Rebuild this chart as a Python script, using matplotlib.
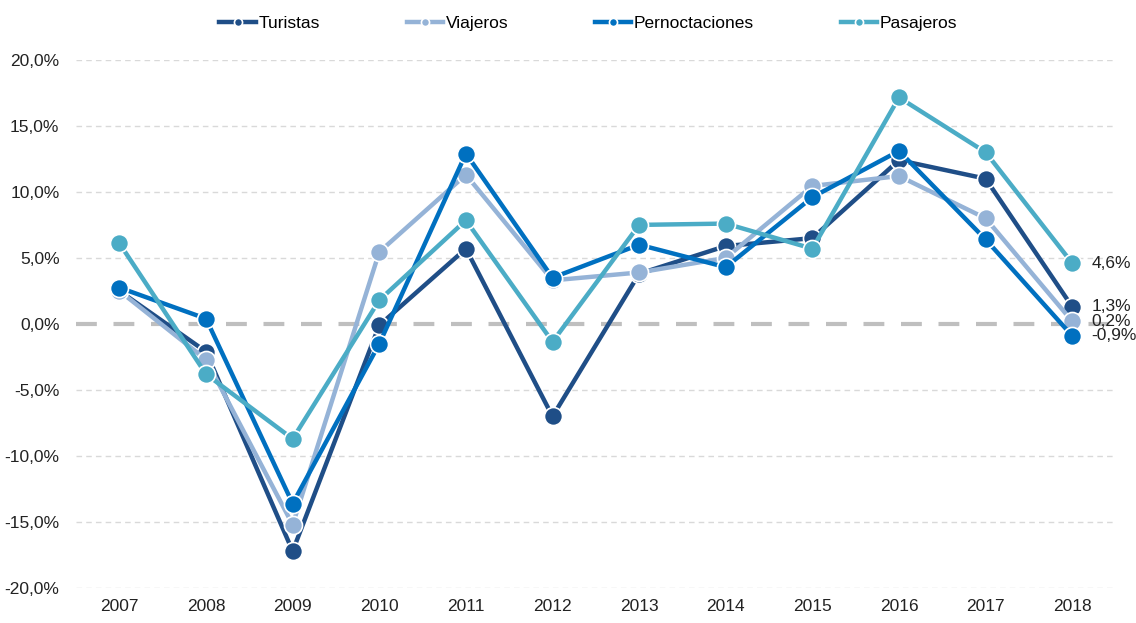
import matplotlib.pyplot as plt
from matplotlib.ticker import FuncFormatter

plt.rcParams['font.family'] = ['Liberation Sans Narrow', 'Liberation Sans', 'DejaVu Sans']

years = ['2007', '2008', '2009', '2010', '2011', '2012', '2013', '2014', '2015', '2016', '2017', '2018']
turistas = [2.5, -2.1, -17.2, -0.1, 5.7, -7.0, 3.8, 5.9, 6.5, 12.4, 11.0, 1.3]
viajeros = [2.5, -2.7, -15.2, 5.45, 11.3, 3.3, 3.9, 5.0, 10.45, 11.2, 8.0, 0.2]
pernoctaciones = [2.75, 0.4, -13.6, -1.5, 12.9, 3.5, 6.0, 4.3, 9.6, 13.1, 6.4, -0.9]
pasajeros = [6.1, -3.8, -8.7, 1.8, 7.85, -1.35, 7.5, 7.6, 5.7, 17.15, 13.0, 4.6]

series = [('Turistas', turistas, '#1f4e87'),
          ('Viajeros', viajeros, '#95b3d7'),
          ('Pernoctaciones', pernoctaciones, '#0070c0'),
          ('Pasajeros', pasajeros, '#4bacc6')]

fig = plt.figure(figsize=(11.36, 6.23), dpi=100)
ax = fig.add_axes([0.067, 0.056, 0.915, 0.848])
x = list(range(len(years)))

# grid lines
for v in [-20, -15, -10, -5, 5, 10, 15, 20]:
    ax.axhline(v, color='#d9d9d9', lw=1, ls=(0, (4, 3)), zorder=0)
ax.axhline(0, color='#bfbfbf', lw=3, ls=(0, (5, 4)), zorder=0)

for name, vals, col in series:
    ax.plot(x, vals, color=col, lw=3.2, marker='o', ms=13,
            markeredgecolor='white', markeredgewidth=1.2, label=name)

# end labels
for name, vals, col in series:
    v = vals[-1]
    ax.annotate(('%.1f%%' % v).replace('.', ','), (x[-1], v), xytext=(14, 0),
                textcoords='offset points', va='center', fontsize=12.5, color='#222222')

ax.set_xlim(-0.5, len(years) - 0.5)
ax.set_ylim(-20, 20)
ax.set_yticks(range(-20, 21, 5))
ax.yaxis.set_major_formatter(FuncFormatter(lambda v, p: ('%.1f%%' % v).replace('.', ',')))
ax.set_xticks(x)
ax.set_xticklabels(years)
ax.tick_params(length=0, labelsize=12.5, colors='#222222')
ax.tick_params(axis='x', pad=8)
ax.tick_params(axis='y', pad=12)
for s in ax.spines.values():
    s.set_visible(False)

leg = fig.legend(loc='upper center', bbox_to_anchor=(0.518, 1.0), ncol=4, frameon=False,
                 fontsize=12.5, markerscale=0.45, handlelength=2.1, columnspacing=5.0, handletextpad=0.15)

fig.savefig('out.png', dpi=100)
